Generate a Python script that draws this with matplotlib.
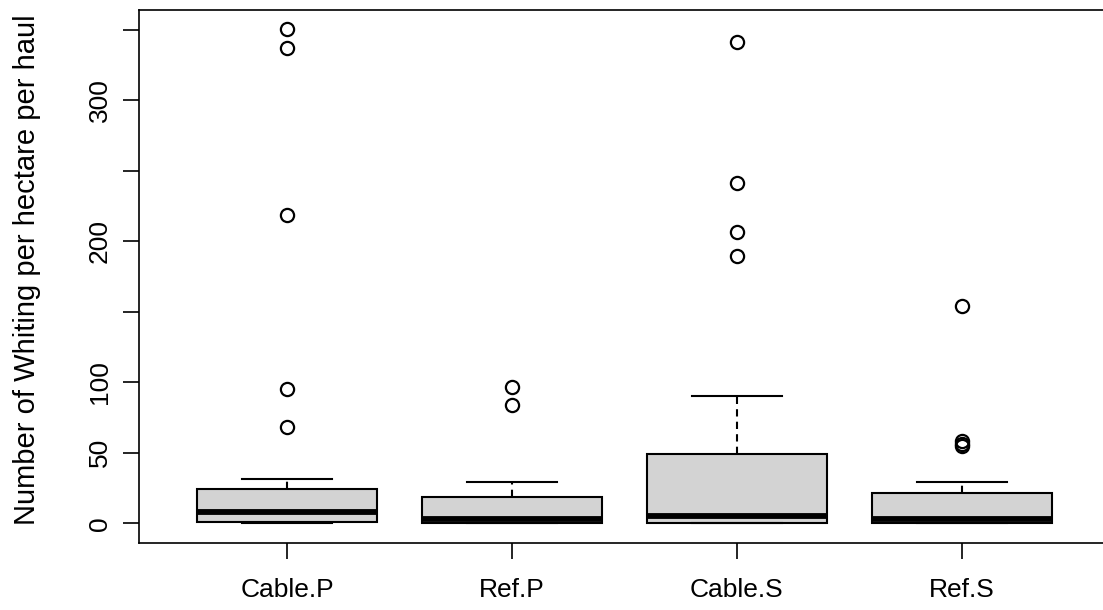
import numpy as np
import matplotlib
matplotlib.use("Agg")
import matplotlib.pyplot as plt

# ==============================
# DATA
# ==============================
groups = ["Cable.P", "Ref.P", "Cable.S", "Ref.S"]
q1 = [1.0, 0.0, 0.0, 0.5]
medians = [8.0, 3.3, 5.0, 3.3]
q3 = [24.6, 18.7, 49.4, 21.5]
whisker_lo = [0.0, 0.0, 0.0, 0.0]
whisker_hi = [31.4, 29.0, 90.3, 29.0]
outliers = [
    [350.4, 336.9, 218.4, 95.5, 68.0],
    [96.7, 84.0],
    [341.0, 241.0, 206.4, 189.4],
    [154.0, 58.0, 56.5, 55.0],
]
y_ticks = [0, 50, 100, 150, 200, 250, 300, 350]
y_tick_labels = ["0", "50", "100", "", "200", "", "300", ""]

# ==============================
# STYLE
# ==============================
plt.rcParams["font.family"] = ["Liberation Sans", "DejaVu Sans"]
plt.rcParams["font.size"] = 19

stats = []
for i, name in enumerate(groups):
    stats.append({
        "label": name,
        "q1": q1[i],
        "med": medians[i],
        "q3": q3[i],
        "whislo": whisker_lo[i],
        "whishi": whisker_hi[i],
        "fliers": outliers[i],
    })

fig = plt.figure(figsize=(11.03, 6.10), dpi=100)
ax = fig.add_axes([139 / 1103, 67 / 610, (1110 - 139) / 1103, (543 - 10) / 610])

ax.bxp(
    stats,
    positions=np.arange(1, len(groups) + 1),
    widths=0.8,
    patch_artist=True,
    boxprops=dict(facecolor="#d3d3d3", edgecolor="black", linewidth=1.5),
    medianprops=dict(color="black", linewidth=4.2, solid_capstyle="butt"),
    whiskerprops=dict(color="black", linewidth=1.5, linestyle=(0, (3.5, 2.5))),
    capprops=dict(color="black", linewidth=1.5),
    capwidths=0.4,
    flierprops=dict(marker="o", markersize=9.5, markerfacecolor="none",
                    markeredgecolor="black", markeredgewidth=1.6),
)

ax.set_xlim(0.34, 4.66)
ax.set_ylim(-14, 364)
ax.set_yticks(y_ticks)
ax.set_yticklabels(y_tick_labels, rotation=90, va="center")
ax.set_xticks(np.arange(1, len(groups) + 1))
ax.set_xticklabels(groups)
ax.tick_params(axis="both", length=11.5, width=1.2, color="black")
ax.tick_params(axis="y", pad=8)
ax.tick_params(axis="x", pad=14)
for s in ax.spines.values():
    s.set_linewidth(1.2)

ax.set_ylabel("Number of Whiting per hectare per haul", fontsize=21, labelpad=34)
ax.yaxis.label.set_y(0.512)

fig.savefig("out.png", dpi=100)
